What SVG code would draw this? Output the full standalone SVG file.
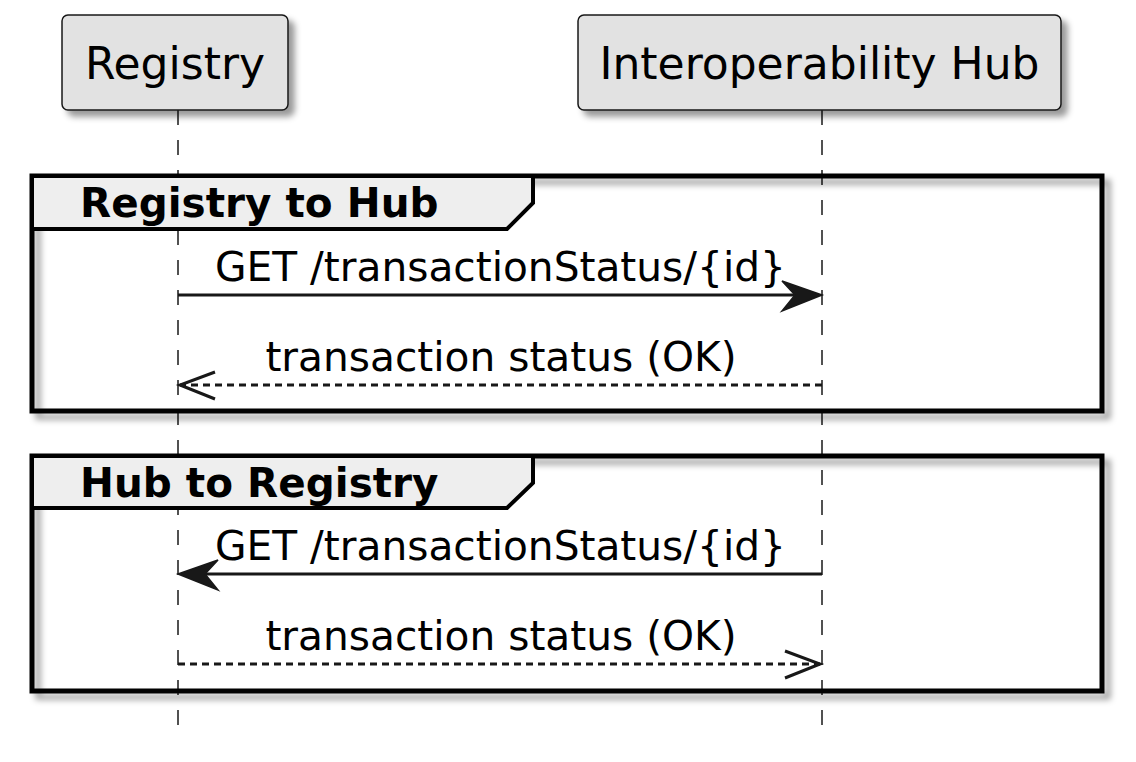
<svg xmlns="http://www.w3.org/2000/svg" width="1136" height="762" viewBox="0 0 1136 762">
<style>
.part{fill:#E2E2E2;stroke:#181818;stroke-width:1.5}
.ptxt{font-family:"DejaVu Sans",sans-serif;font-size:44px;fill:#000;text-anchor:middle}
.life{stroke:#181818;stroke-width:1.5;stroke-dasharray:15,15;fill:none}
.frame{fill:none;stroke:#000;stroke-width:5}
.tab{fill:#EEEEEE;stroke:#000;stroke-width:4}
.gtxt{font-family:"DejaVu Sans",sans-serif;font-size:40.5px;font-weight:bold;fill:#000}
.mtxt{font-family:"DejaVu Sans",sans-serif;font-size:40.7px;fill:#000;text-anchor:middle}
.msg{stroke:#181818;stroke-width:3;fill:none}
.ret{stroke:#181818;stroke-width:3;fill:none;stroke-dasharray:7,5}
.head{fill:#181818;stroke:#181818;stroke-width:1.5}
.open{fill:none;stroke:#181818;stroke-width:3}
</style>
<defs>
<filter id="sh" x="-10%" y="-10%" width="130%" height="140%">
<feGaussianBlur in="SourceAlpha" stdDeviation="3"/>
<feOffset dx="6" dy="6" result="b"/>
<feColorMatrix in="b" type="matrix" values="0 0 0 0 0 0 0 0 0 0 0 0 0 0 0 0 0 0 0.4 0" result="c"/>
<feMerge><feMergeNode in="c"/><feMergeNode in="SourceGraphic"/></feMerge>
</filter>
</defs>
<g id="lifelines">
<line class="life" x1="178" y1="110" x2="178" y2="732"/>
<line class="life" x1="822" y1="110" x2="822" y2="732"/>
</g>
<g id="registry">
<rect class="part" x="62" y="15" width="226" height="95" rx="6" filter="url(#sh)"/>
<text class="ptxt" x="175" y="79">Registry</text>
</g>
<g id="hub">
<rect class="part" x="578" y="15" width="483" height="95" rx="6" filter="url(#sh)"/>
<text class="ptxt" x="819.5" y="79">Interoperability Hub</text>
</g>
<g id="group1">
<rect class="frame" x="32" y="176" width="1070" height="235" filter="url(#sh)"/>
<path class="tab" d="M32,176 L533,176 L533,203 L507,229 L32,229 Z"/>
<text class="gtxt" x="80" y="217">Registry to Hub</text>
</g>
<g id="group2">
<rect class="frame" x="32" y="456" width="1070" height="235" filter="url(#sh)"/>
<path class="tab" d="M32,456 L533,456 L533,483 L507,508 L32,508 Z"/>
<text class="gtxt" x="80" y="497">Hub to Registry</text>
</g>
<g id="connectors">
<line class="msg" x1="178" y1="295" x2="812" y2="295"/>
<polygon class="head" points="822,295 782,281 795,295 782,311"/>
<text class="mtxt" x="500.5" y="281">GET /transactionStatus/{id}</text>
<line class="ret" x1="822" y1="385" x2="180" y2="385"/>
<polyline class="open" points="215,372 180,385 215,399"/>
<text class="mtxt" x="501" y="371">transaction status (OK)</text>
<line class="msg" x1="822" y1="574" x2="188" y2="574"/>
<polygon class="head" points="178,574 218,560 205,574 218,590"/>
<text class="mtxt" x="500.5" y="560">GET /transactionStatus/{id}</text>
<line class="ret" x1="178" y1="664" x2="820" y2="664"/>
<polyline class="open" points="785,651 820,664 785,678"/>
<text class="mtxt" x="501" y="650">transaction status (OK)</text>
</g>
</svg>
